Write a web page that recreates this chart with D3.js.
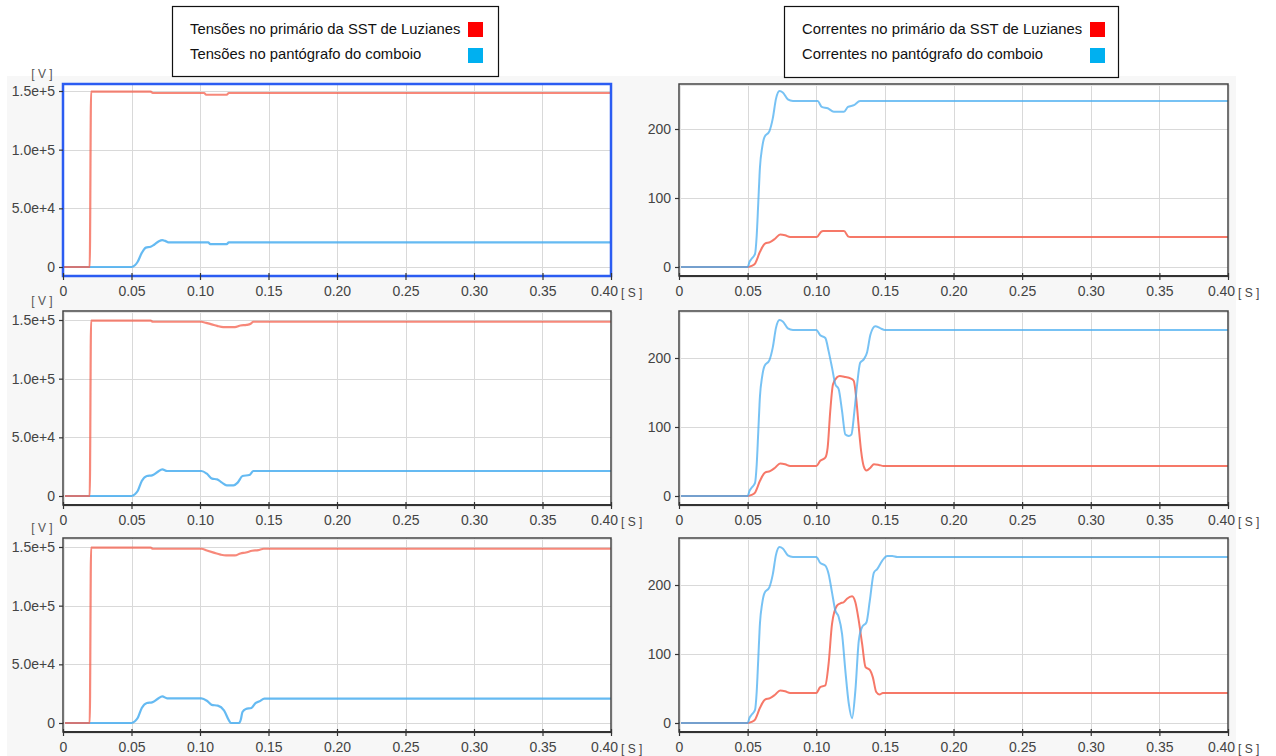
<!DOCTYPE html>
<html><head><meta charset="utf-8">
<script src="https://cdn.jsdelivr.net/npm/d3@7"></script>
<style>
html,body{margin:0;padding:0;background:#fff;}
svg{display:block;font-family:"Liberation Sans",Arial,sans-serif;}
</style></head>
<body>
<svg id="c" width="1276" height="756"></svg>
<script>
// ---------- DATA ----------
const xTicks = [0,0.05,0.10,0.15,0.20,0.25,0.30,0.35,0.40];
const xTickLabels = ["0","0.05","0.10","0.15","0.20","0.25","0.30","0.35","0.40"];
const voltTicks = [0,50000,100000,150000];
const voltTickLabels = ["0","5.0e+4","1.0e+5","1.5e+5"];
const currTicks = [0,100,200];
const currTickLabels = ["0","100","200"];

const voltLegend = ["Tensões no primário da SST de Luzianes","Tensões no pantógrafo do comboio"];
const currLegend = ["Correntes no primário da SST de Luzianes","Correntes no pantógrafo do comboio"];

// Voltage, primary (red)  [t (s), V]
const voltPrimary1 = [[0,0],[0.0195,0],[0.0205,149500],[0.064,149500],[0.0655,148300],[0.103,148300],[0.1045,146800],[0.1195,146800],[0.121,148300],[0.4,148300]];
const voltPrimary2 = [[0,0],[0.0195,0],[0.0205,149500],[0.064,149500],[0.0655,148500],[0.101,148500],[0.1045,147500],[0.1085,146300],[0.1125,145000],[0.117,144000],[0.1255,144000],[0.1295,145300],[0.134,145800],[0.137,146800],[0.139,148500],[0.4,148500]];
const voltPrimary3 = [[0,0],[0.0195,0],[0.0205,149500],[0.064,149500],[0.0655,148500],[0.101,148500],[0.105,147000],[0.11,145200],[0.115,143500],[0.119,142800],[0.1255,142800],[0.1295,144500],[0.1335,145300],[0.138,146800],[0.1425,147300],[0.1465,148500],[0.4,148500]];
// Voltage, pantograph (blue)
const voltPanto1 = [[0,0],[0.05,0],[0.0525,1500],[0.0545,4500],[0.0575,12000],[0.0605,16500],[0.064,17300],[0.0665,19000],[0.07,22000],[0.0725,22900],[0.0745,22300],[0.077,21000],[0.106,21000],[0.1075,19500],[0.1195,19500],[0.121,21000],[0.4,21000]];
const voltPanto2 = [[0,0],[0.05,0],[0.0525,1500],[0.0545,4300],[0.0575,12800],[0.0612,17000],[0.065,17600],[0.069,20400],[0.0725,22700],[0.076,21300],[0.101,21300],[0.105,19000],[0.1088,14800],[0.1125,14200],[0.116,11400],[0.1195,9100],[0.1245,9100],[0.1275,11400],[0.131,17000],[0.136,17900],[0.139,21300],[0.4,21300]];
const voltPanto3 = [[0,0],[0.05,0],[0.0525,1500],[0.0545,4300],[0.0575,12800],[0.0612,17000],[0.065,17600],[0.069,20400],[0.0725,22700],[0.076,21000],[0.101,21000],[0.105,19000],[0.1085,15500],[0.113,14800],[0.1175,10800],[0.1212,2000],[0.1225,0],[0.1285,0],[0.1298,3000],[0.131,9400],[0.1335,12000],[0.1375,12800],[0.1405,17000],[0.1435,18500],[0.147,20700],[0.4,20700]];

// Current, primary (red) [t (s), A]
const currPrimary1 = [[0,0],[0.05,0],[0.0529,1.5],[0.0554,5],[0.059,22],[0.0627,34],[0.0663,36],[0.07,41],[0.0737,47],[0.0773,46],[0.081,43.5],[0.1005,43.5],[0.1035,51],[0.105,52],[0.1202,52],[0.1235,44],[0.1246,43.5],[0.4,43.5]];
const currPrimary2 = [[0,0],[0.05,0],[0.0529,1.5],[0.0554,5],[0.059,22],[0.0627,34],[0.0663,36],[0.07,41],[0.0737,47],[0.0773,46],[0.081,43.5],[0.10,43.5],[0.1029,51],[0.1066,55.5],[0.1083,70],[0.1102,123],[0.1122,162],[0.1151,172],[0.1171,174],[0.1212,172.5],[0.1249,170.5],[0.1273,167],[0.1293,138],[0.131,99],[0.1327,65],[0.1346,43],[0.1366,37],[0.1395,41],[0.142,46],[0.1456,45],[0.149,43.5],[0.4,43.5]];
const currPrimary3 = [[0,0],[0.05,0],[0.0529,1.5],[0.0554,5],[0.059,22],[0.0627,34],[0.0663,36],[0.07,41],[0.0737,47],[0.0773,46],[0.081,43.5],[0.10,43.5],[0.1029,52],[0.1066,54.5],[0.109,86],[0.1115,143.6],[0.1151,170],[0.1176,173.5],[0.12,175],[0.1224,180],[0.1261,183.6],[0.1285,175],[0.131,148],[0.1334,115],[0.1359,81],[0.139,77],[0.1412,66.5],[0.1437,45],[0.1461,41.4],[0.1485,43.4],[0.4,43.5]];
// Current, pantograph (blue)
const currPanto1 = [[0,0],[0.05,0],[0.0515,8],[0.0529,12],[0.0554,19],[0.0566,45],[0.0578,95],[0.059,145],[0.0605,172],[0.0622,188],[0.0659,197],[0.0683,215],[0.0707,244],[0.0732,255],[0.0756,253],[0.0793,243],[0.083,240.6],[0.101,240.6],[0.104,232],[0.1084,230],[0.1128,225],[0.1202,225],[0.1231,232],[0.1275,234.6],[0.1319,240.6],[0.4,240.6]];
const currPanto2 = [[0,0],[0.05,0],[0.0515,8],[0.0529,12],[0.0554,19],[0.0566,45],[0.0578,95],[0.059,145],[0.0605,172],[0.0622,188],[0.0659,197],[0.0683,215],[0.0707,244],[0.0732,255],[0.0756,253],[0.0793,243],[0.083,240.6],[0.10,240.6],[0.1029,233],[0.1066,229],[0.109,210],[0.1115,186],[0.1139,162],[0.1163,155],[0.1188,123],[0.1212,89],[0.1237,87],[0.1256,89],[0.1278,123],[0.1298,162],[0.132,193],[0.1346,198],[0.137,208],[0.1395,234],[0.143,246],[0.1468,243],[0.15,240.6],[0.4,240.6]];
const currPanto3 = [[0,0],[0.05,0],[0.0515,8],[0.0529,12],[0.0554,19],[0.0566,45],[0.0578,95],[0.059,145],[0.0605,172],[0.0622,188],[0.0659,197],[0.0683,215],[0.0707,244],[0.0732,255],[0.0756,253],[0.0793,243],[0.083,240.6],[0.10,240.6],[0.1029,232],[0.1066,228],[0.109,216],[0.1115,189],[0.1139,163],[0.1163,154],[0.1188,129],[0.1212,76],[0.1237,28],[0.1261,7],[0.1285,47],[0.131,119.5],[0.1334,139],[0.1366,146],[0.139,177],[0.142,218],[0.1444,223],[0.148,235],[0.1517,242],[0.1554,242],[0.159,240.6],[0.4,240.6]];

// ---------- DRAWING ----------
const svg = d3.select("#c");
const RED = "#f4604e", BLUE = "#4aaef0";

svg.append("rect").attr("x",7).attr("y",76).attr("width",1229).attr("height",680).attr("fill","#f7f7f7");

const cols = [{x0:63,x1:611},{x0:679,x1:1228}];
const rows = [{top:84,bottom:276},{top:311,bottom:505},{top:538,bottom:732}];

const panels = [];
rows.forEach((r,ri)=>{
  panels.push({r, c:cols[0], type:"V", prim:[voltPrimary1,voltPrimary2,voltPrimary3][ri], panto:[voltPanto1,voltPanto2,voltPanto3][ri], selected: ri===0, id:"v"+ri});
  panels.push({r, c:cols[1], type:"A", prim:[currPrimary1,currPrimary2,currPrimary3][ri], panto:[currPanto1,currPanto2,currPanto3][ri], selected:false, id:"a"+ri});
});

panels.forEach(p=>{
  const {r,c} = p;
  const x = d3.scaleLinear().domain([0,0.4]).range([c.x0,c.x1]);
  const zeroY = r.bottom-9;
  const y = p.type==="V"
    ? d3.scaleLinear().domain([0,150000]).range([zeroY, zeroY-176])
    : d3.scaleLinear().domain([0,200]).range([zeroY, zeroY-138]);
  const yt = p.type==="V" ? voltTicks : currTicks;
  const ytl = p.type==="V" ? voltTickLabels : currTickLabels;
  const g = svg.append("g");
  const h = r.bottom - r.top, w = c.x1 - c.x0;

  g.append("rect").attr("x",c.x0).attr("y",r.top).attr("width",w).attr("height",h).attr("fill","#fff");

  // grid
  const grid = g.append("g").attr("stroke","#d9d9d9").attr("stroke-width",1);
  xTicks.slice(1,-1).forEach(t=>{
    grid.append("line").attr("x1",Math.round(x(t))+0.5).attr("x2",Math.round(x(t))+0.5).attr("y1",r.top).attr("y2",r.bottom);
  });
  yt.forEach(t=>{
    grid.append("line").attr("x1",c.x0).attr("x2",c.x1).attr("y1",Math.round(y(t))+0.5).attr("y2",Math.round(y(t))+0.5);
  });

  // lines
  const clipId = "clip-"+p.id;
  svg.append("clipPath").attr("id",clipId).append("rect").attr("x",c.x0).attr("y",r.top).attr("width",w).attr("height",h);
  const line = d3.line().x(d=>x(d[0])).y(d=>y(d[1])).curve(d3.curveMonotoneX);
  const lg = g.append("g").attr("clip-path",`url(#${clipId})`).attr("fill","none").attr("stroke-linejoin","round");
  if(p.type==="V"){
    lg.append("path").attr("d",line(p.panto)).attr("stroke",BLUE).attr("stroke-width",2.2).attr("stroke-opacity",0.85);
    lg.append("path").attr("d",line(p.prim)).attr("stroke",RED).attr("stroke-width",2.2).attr("stroke-opacity",0.75);
  } else {
    lg.append("path").attr("d",line(p.prim)).attr("stroke",RED).attr("stroke-width",2).attr("stroke-opacity",0.85);
    lg.append("path").attr("d",line(p.panto)).attr("stroke",BLUE).attr("stroke-width",2).attr("stroke-opacity",0.75);
  }

  // frame
  if(p.selected){
    g.append("rect").attr("x",c.x0).attr("y",r.top).attr("width",w).attr("height",h)
      .attr("fill","none").attr("stroke","#2b5cf2").attr("stroke-width",2.5);
  } else {
    g.append("rect").attr("x",c.x0+1.5).attr("y",r.top+1.5).attr("width",w).attr("height",h)
      .attr("fill","none").attr("stroke","#e4e4e4").attr("stroke-width",1);
    g.append("rect").attr("x",c.x0).attr("y",r.top).attr("width",w).attr("height",h)
      .attr("fill","none").attr("stroke","#444").attr("stroke-width",1.5);
    g.append("line").attr("x1",c.x0).attr("x2",c.x1).attr("y1",r.bottom).attr("y2",r.bottom).attr("stroke","#333").attr("stroke-width",2);
  }

  // x axis
  const xa = d3.axisBottom(x).tickValues(xTicks).tickFormat((d,i)=>xTickLabels[i]).tickSize(4).tickPadding(6);
  const xg = g.append("g").attr("transform",`translate(0,${r.bottom})`).call(xa);
  xg.select(".domain").remove();
  xg.selectAll(".tick line").attr("stroke","#333").attr("y1",-3).attr("stroke-width",1.2);
  xg.selectAll(".tick text").attr("fill","#444").attr("font-size",14).attr("font-family","Liberation Sans, Arial, sans-serif")
    .attr("dx",(d,i)=> i===xTicks.length-1 ? "-7" : "0");

  // y axis
  const ya = d3.axisLeft(y).tickValues(yt).tickFormat((d,i)=>ytl[i]).tickSize(4).tickPadding(4);
  const yg = g.append("g").attr("transform",`translate(${c.x0},0)`).call(ya);
  yg.select(".domain").remove();
  yg.selectAll(".tick line").attr("stroke","#333").attr("stroke-width",1.2);
  yg.selectAll(".tick text").attr("fill","#444").attr("font-size",14).attr("font-family","Liberation Sans, Arial, sans-serif");

  // unit labels
  g.append("text").attr("x",c.x1+10).attr("y",r.bottom+21).attr("fill","#444").attr("font-size",12).text("[ S ]");
  if(p.type==="V"){
    g.append("text").attr("x",c.x0-21).attr("y",r.top-6).attr("text-anchor","middle").attr("fill","#555").attr("font-size",12).text("[ V ]");
  }
});

// legends
function legend(x0, y0, w, h, labels, swX){
  const g = svg.append("g");
  g.append("rect").attr("x",x0+0.5).attr("y",y0+0.5).attr("width",w).attr("height",h).attr("fill","#fff").attr("stroke","#111").attr("stroke-width",1.2);
  const cols2 = ["#ff0000","#00b0f0"];
  labels.forEach((l,i)=>{
    g.append("text").attr("x",x0+18).attr("y",y0+28+i*25).attr("font-size",14.8).attr("fill","#111").text(l);
    g.append("rect").attr("x",swX).attr("y",y0+16+i*26).attr("width",15).attr("height",15).attr("fill",cols2[i]);
  });
}
legend(172,6,326,70,voltLegend,468);
legend(784,6,334,71,currLegend,1090);
</script>
</body></html>
